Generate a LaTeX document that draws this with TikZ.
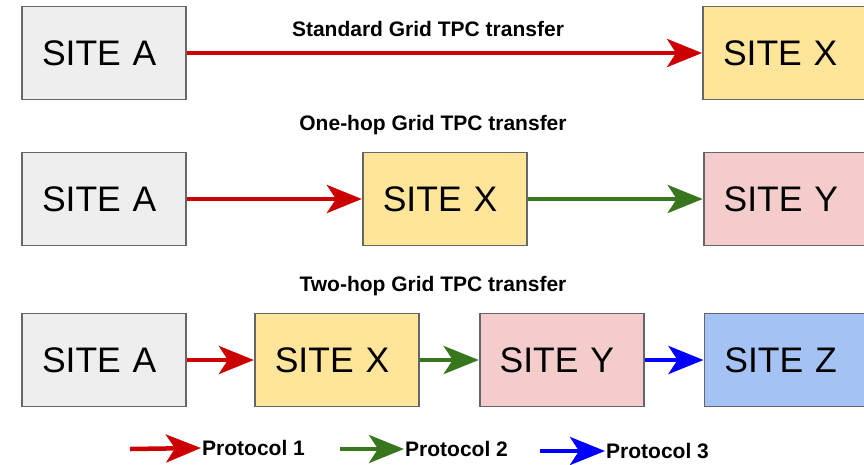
\documentclass[tikz,border=0pt]{standalone}
\usepackage{fontspec}
\setmainfont{Liberation Sans}
\usetikzlibrary{positioning,arrows.meta}
\definecolor{boxgray}{HTML}{EEEEEE}
\definecolor{boxyellow}{HTML}{FFE599}
\definecolor{boxpink}{HTML}{F4CCCC}
\definecolor{boxblue}{HTML}{A4C2F4}
\definecolor{edge}{HTML}{666666}
\definecolor{protred}{HTML}{CC0000}
\definecolor{protgreen}{HTML}{38761D}
\definecolor{protblue}{HTML}{0000FF}
\begin{document}
\begin{tikzpicture}[x=1pt, y=-1pt, node distance={175pt},
  site/.style = {draw=edge, line width=1.8pt, minimum width=164pt, minimum height=93pt, inner sep=0pt, text width=124pt, align=left, font=\fontsize{35.5}{40}\selectfont},
  title/.style = {font=\bfseries\fontsize{21}{24}\selectfont},
  legend/.style = {font=\bfseries\fontsize{21}{24}\selectfont, anchor=west, inner sep=1pt},
  prot/.style = {line width=4.5pt, -{Stealth[length=35pt, width=28pt, inset=9pt]}}]
\useasboundingbox (0,0) rectangle (864,464);

% row 1
\node[site, fill=boxgray] (a1) at (104,53) {SITE A};
\node[site, fill=boxyellow] (x1) at (785,53) {SITE X};
\node[title] (t1) at (428,29) {Standard Grid TPC transfer};

% row 2
\node[site, fill=boxgray] (a2) at (104,199) {SITE A};
\node[site, fill=boxyellow] (x2) [right=175pt of a2] {SITE X};
\node[site, fill=boxpink] (y2) [right=175pt of x2] {SITE Y};
\node[title] (t2) at (433,125) {One-hop Grid TPC transfer};

% row 3
\node[site, fill=boxgray] (a3) at (104,360) {SITE A};
\node[site, fill=boxyellow] (x3) [right=67pt of a3] {SITE X};
\node[site, fill=boxpink] (y3) [right=59pt of x3] {SITE Y};
\node[site, fill=boxblue] (z3) [right=59pt of y3] {SITE Z};
\node[title] (t3) at (433,286) {Two-hop Grid TPC transfer};

\draw[prot, protred] (a1) -- (x1);
\draw[prot, protred] (a2) -- (x2);
\draw[prot, protgreen] (x2) -- (y2);
\draw[prot, protred] (a3) -- (x3);
\draw[prot, protgreen] (x3) -- (y3);
\draw[prot, protblue] (y3) -- (z3);

% legend
\coordinate (l1) at (130,449);
\node[legend] (p1) at (201,448) {Protocol 1};
\draw[prot, protred] (l1) -- (p1.west);
\coordinate (l2) at (340,449);
\node[legend] (p2) at (404,449) {Protocol 2};
\draw[prot, protgreen] (l2) -- (p2.west);
\coordinate (l3) at (540,451);
\node[legend] (p3) at (605,451) {Protocol 3};
\draw[prot, protblue] (l3) -- (p3.west);
\end{tikzpicture}
\end{document}
